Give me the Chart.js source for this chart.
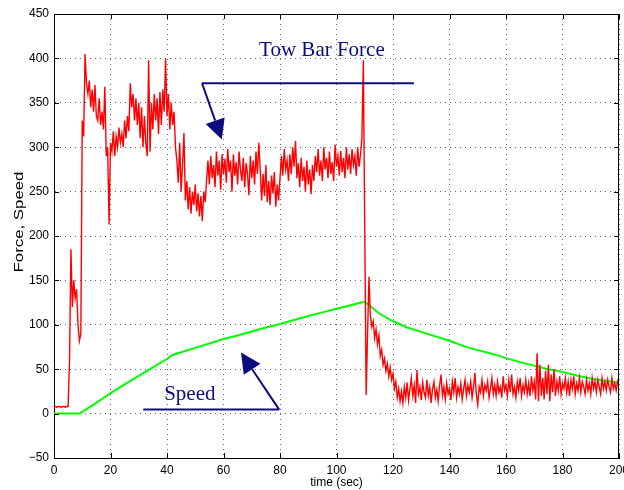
<!DOCTYPE html>
<html>
<head>
<meta charset="utf-8">
<script src="https://cdn.jsdelivr.net/npm/chart.js@4.4.0/dist/chart.umd.min.js"></script>
<style>
  html, body { margin: 0; padding: 0; background: #fff; }
</style>
</head>
<body>
<canvas id="myChart" width="624" height="490"></canvas>
<script>
// tow bar force, one reading every half second from t=0 to t=200
const forceStep = 0.5;
const forceValues = [
    8, 8, 7, 8, 8, 7, 8, 8, 7, 8,
    8, 60, 185, 120, 150, 130, 140, 100, 82, 90,
    330, 312, 405, 372, 360, 375, 345, 365, 340, 370,
    335, 330, 355, 325, 340, 320, 368, 290, 300, 213,
    305, 295, 318, 290, 312, 300, 322, 305, 315, 300,
    330, 310, 335, 318, 372, 345, 360, 330, 355, 325,
    350, 310, 345, 300, 335, 305, 290, 398, 295, 350,
    320, 360, 330, 355, 315, 362, 325, 365, 340, 400,
    335, 360, 320, 350, 325, 340, 300, 285, 260, 305,
    250, 280, 316, 240, 262, 230, 255, 225, 250, 235,
    258, 228, 248, 222, 245, 217, 250, 238, 262, 285,
    258, 290, 265, 280, 255, 295, 268, 285, 252, 292,
    270, 287, 260, 298, 272, 285, 250, 292, 268, 283,
    258, 295, 275, 262, 288, 255, 282, 270, 246, 290,
    265, 285, 258, 295, 270, 305, 275, 240, 270, 245,
    280, 238, 262, 235, 268, 248, 272, 233, 258, 240,
    265, 290, 268, 298, 275, 285, 262, 292, 270, 300,
    278, 307, 265, 282, 255, 288, 262, 278, 250, 285,
    258, 275, 247, 280, 262, 290, 272, 298, 268, 285,
    262, 300, 275, 288, 265, 295, 270, 283, 262, 303,
    278, 290, 268, 296, 272, 288, 265, 300, 275, 292,
    270, 298, 280, 290, 268, 300, 278, 292, 310, 398,
    210, 21, 90, 154, 110, 98, 104, 85, 95, 78,
    88, 65, 72, 55, 62, 48, 56, 42, 52, 38,
    45, 28, 36, 18, 28, 14, 25, 12, 30, 18,
    35, 15, 28, 40, 20, 32, 12, 49, 22, 30,
    15, 35, 24, 18, 38, 20, 30, 12, 28, 36,
    18, 27, 14, 32, 44, 20, 30, 16, 34, 22,
    28, 15, 36, 24, 40, 18, 30, 22, 34, 16,
    28, 38, 20, 32, 24, 36, 18, 30, 46, 22,
    10, 30, 24, 38, 20, 32, 26, 36, 18, 28,
    40, 22, 32, 20, 36, 24, 30, 18, 42, 26,
    32, 20, 38, 24, 44, 22, 30, 18, 36, 26,
    40, 20, 32, 24, 38, 22, 34, 20, 42, 26,
    36, 16, 68, 14, 55, 20, 40, 16, 48, 22,
    55, 14, 44, 24, 50, 20, 36, 26, 42, 22,
    34, 28, 40, 24, 36, 20, 38, 28, 42, 22,
    34, 26, 40, 24, 36, 30, 22, 38, 26, 34,
    22, 40, 28, 36, 24, 38, 30, 22, 40, 28,
    36, 26, 38, 30, 24, 40, 28, 34, 26, 36,
    30
];

// speed
const speedTime = [0, 5, 9, 10, 15, 20, 25, 30, 35, 40, 42, 45, 50, 55, 60, 65, 70, 75, 80, 85, 90, 95, 100, 105, 108, 110,
    112, 115, 120, 125, 130, 135, 140, 145, 150, 155, 160, 165, 170, 175, 180, 185, 190, 195, 200];
const speedValues = [0, 0, 0, 2, 12, 23, 33, 42.5, 52, 61.5, 66, 69, 74, 79, 84, 88, 92.5, 97, 101, 105.5, 110, 114, 118, 122, 124.5, 126,
    121, 113, 104, 97, 92, 87, 82, 76, 71.5, 67.5, 62.5, 58, 54, 50, 47, 43, 39.5, 37, 35];

const xTicks = [0, 20, 40, 60, 80, 100, 120, 140, 160, 180, 200];
const yTicks = [-50, 0, 50, 100, 150, 200, 250, 300, 350, 400, 450];

// text annotations, in data units (time, value)
const notes = {
    tow: { text: 'Tow Bar Force', at: [72.6, 403], line: [52.4, 127.4, 372], tip: [59.4, 308.6] },
    speed: { text: 'Speed', at: [39, 15.8], line: [31.6, 79.7, 4.5], tip: [66.2, 68.7] }
};

const navy = '#0c0c80';

function arrow(ctx, x1, y1, x2, y2) {
    const len = Math.hypot(x2 - x1, y2 - y1);
    const ux = (x2 - x1) / len, uy = (y2 - y1) / len;
    const hl = 20, hw = 10;
    const bx = x2 - ux * hl, by = y2 - uy * hl;
    ctx.lineWidth = 2;
    ctx.beginPath();
    ctx.moveTo(x1, y1);
    ctx.lineTo(bx, by);
    ctx.stroke();
    ctx.beginPath();
    ctx.moveTo(x2, y2);
    ctx.lineTo(bx - uy * hw, by + ux * hw);
    ctx.lineTo(bx + uy * hw, by - ux * hw);
    ctx.closePath();
    ctx.fill();
}

const extras = {
    id: 'extras',
    afterDatasetsDraw(chart) {
        const { ctx, chartArea: a, scales: { x, y } } = chart;
        ctx.save();

        // box on top/right + inward ticks like matlab
        ctx.strokeStyle = '#000';
        ctx.lineWidth = 1;
        ctx.beginPath();
        ctx.moveTo(a.left, a.top + 0.5); ctx.lineTo(a.right, a.top + 0.5);
        ctx.moveTo(a.right - 0.5, a.top); ctx.lineTo(a.right - 0.5, a.bottom);
        xTicks.forEach((v) => {
            const px = Math.round(x.getPixelForValue(v)) + 0.5;
            ctx.moveTo(px, a.bottom); ctx.lineTo(px, a.bottom - 5);
            ctx.moveTo(px, a.top); ctx.lineTo(px, a.top + 5);
        });
        yTicks.forEach((v) => {
            const py = Math.round(y.getPixelForValue(v)) + 0.5;
            ctx.moveTo(a.left, py); ctx.lineTo(a.left + 5, py);
            ctx.moveTo(a.right, py); ctx.lineTo(a.right - 5, py);
        });
        ctx.stroke();

        // annotations
        ctx.strokeStyle = navy;
        ctx.fillStyle = navy;
        ctx.font = '21px "Liberation Serif", "Times New Roman", serif';
        ctx.textBaseline = 'alphabetic';
        ctx.textAlign = 'left';
        Object.values(notes).forEach((n) => {
            ctx.fillText(n.text, x.getPixelForValue(n.at[0]), y.getPixelForValue(n.at[1]));
            const ly = y.getPixelForValue(n.line[2]);
            const lx1 = x.getPixelForValue(n.line[0]), lx2 = x.getPixelForValue(n.line[1]);
            ctx.lineWidth = 2;
            ctx.beginPath();
            ctx.moveTo(lx1, ly); ctx.lineTo(lx2, ly);
            ctx.stroke();
        });
        arrow(ctx, x.getPixelForValue(notes.tow.line[0]), y.getPixelForValue(notes.tow.line[2]),
            x.getPixelForValue(notes.tow.tip[0]), y.getPixelForValue(notes.tow.tip[1]));
        arrow(ctx, x.getPixelForValue(notes.speed.line[1]), y.getPixelForValue(notes.speed.line[2]),
            x.getPixelForValue(notes.speed.tip[0]), y.getPixelForValue(notes.speed.tip[1]));

        // y axis title (matlab stretches it along the axis)
        ctx.fillStyle = '#000';
        ctx.font = '12px Arial, "Liberation Sans", sans-serif';
        ctx.textAlign = 'center';
        ctx.textBaseline = 'middle';
        ctx.translate(20, 222);
        ctx.rotate(-Math.PI / 2);
        ctx.scale(1.4, 1);
        ctx.fillText('Force, Speed', 0, 0);

        ctx.restore();
    }
};

const tickFont = { family: 'Arial, "Liberation Sans", sans-serif', size: 12 };

const data = {
    datasets: [{
        label: 'Tow Bar Force',
        data: forceValues.map((v, i) => ({ x: i * forceStep, y: v })),
        borderColor: '#ff0000',
        borderWidth: 1.4,
        pointRadius: 0,
        tension: 0
    }, {
        label: 'Speed',
        data: speedTime.map((t, i) => ({ x: t, y: speedValues[i] })),
        borderColor: '#00ff00',
        borderWidth: 2,
        pointRadius: 0,
        tension: 0
    }]
};

const config = {
    type: 'line',
    data: data,
    options: {
        responsive: false,
        animation: false,
        devicePixelRatio: 1,
        layout: { padding: { left: 0, right: 5, top: 14, bottom: 0 } },
        plugins: { legend: { display: false }, tooltip: { enabled: false } },
        scales: {
            x: {
                type: 'linear',
                min: 0,
                max: 200,
                afterBuildTicks: (s) => { s.ticks = xTicks.map((v) => ({ value: v })); },
                ticks: { color: '#000', font: tickFont, padding: 5, maxRotation: 0, autoSkip: false },
                grid: { color: '#666', drawTicks: false, lineWidth: 1 },
                border: { display: true, color: '#000', width: 1, dash: [1, 4] },
                title: { display: true, text: 'time (sec)', color: '#000', font: tickFont, padding: 0 },
                afterFit: (s) => { s.height = 32; s.paddingLeft = 0; s.paddingRight = 0; }
            },
            y: {
                min: -50,
                max: 450,
                afterBuildTicks: (s) => { s.ticks = yTicks.map((v) => ({ value: v })); },
                ticks: {
                    color: '#000', font: tickFont, padding: 5, autoSkip: false,
                    callback: (v) => String(v).replace('-', '\u2212')
                },
                grid: { color: '#666', drawTicks: false, lineWidth: 1 },
                border: { display: true, color: '#000', width: 1, dash: [1, 4] },
                afterFit: (s) => { s.width = 54; s.paddingTop = 0; s.paddingBottom = 0; }
            }
        }
    },
    plugins: [extras]
};

var myChart = new Chart(document.getElementById('myChart'), config);
</script>
</body>
</html>
